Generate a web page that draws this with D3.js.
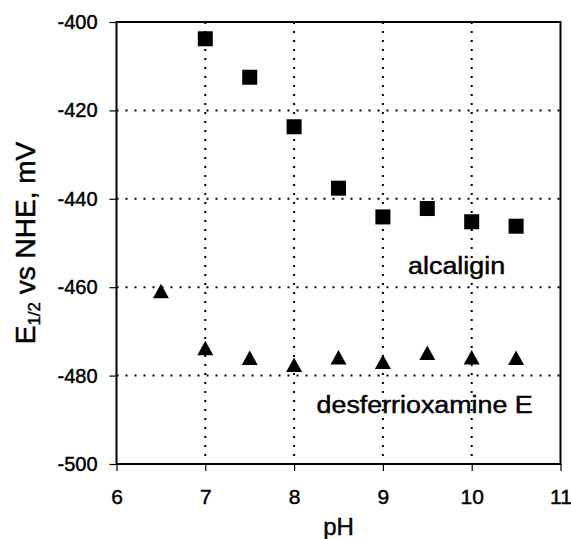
<!DOCTYPE html>
<html>
<head>
<meta charset="utf-8">
<script src="https://cdn.jsdelivr.net/npm/d3@7"></script>
<style>
  body { margin: 0; background: #fff; }
  text { font-family: "Liberation Sans", Arial, sans-serif; fill: #000; stroke: #000; stroke-width: 0.45px; }
</style>
</head>
<body>
<div id="chart"></div>
<script>
const width = 571;
const height = 539;

// data
const phValues = [7, 7.5, 8, 8.5, 9, 9.5, 10, 10.5];
const alcaligin = [-403.8, -412.5, -423.7, -437.6, -444.1, -442.2, -445.2, -446.2];
const desferPh = [6.5, 7, 7.5, 8, 8.5, 9, 9.5, 10, 10.5];
const desferrioxamine = [-460.9, -473.8, -476.0, -477.6, -475.9, -476.9, -474.9, -475.9, -476.0];
const xTicks = [6, 7, 8, 9, 10, 11];
const yTicks = [-400, -420, -440, -460, -480, -500];

const margin = { top: 22, right: 10.5, bottom: 75, left: 116.5 };

const svg = d3.select("#chart")
    .append("svg")
    .attr("width", width)
    .attr("height", height);

const x = d3.scaleLinear().domain([6, 11]).range([margin.left, width - margin.right]);
const y = d3.scaleLinear().domain([-500, -400]).range([height - margin.bottom, margin.top]);

// dotted grid
svg.append("g")
    .selectAll("line")
    .data(xTicks.slice(1, -1))
    .enter().append("line")
    .attr("x1", d => x(d)).attr("x2", d => x(d))
    .attr("y1", y(-400)).attr("y2", y(-500))
    .attr("stroke", "#000")
    .attr("stroke-width", 2)
    .attr("stroke-dasharray", "2 7");

svg.append("g")
    .selectAll("line")
    .data(yTicks.slice(1, -1))
    .enter().append("line")
    .attr("x1", x(6)).attr("x2", x(11))
    .attr("y1", d => y(d)).attr("y2", d => y(d))
    .attr("stroke", "#000")
    .attr("stroke-width", 2)
    .attr("stroke-dasharray", "2 7");

// frame
svg.append("rect")
    .attr("x", x(6))
    .attr("y", y(-400))
    .attr("width", x(11) - x(6))
    .attr("height", y(-500) - y(-400))
    .attr("fill", "none")
    .attr("stroke", "#000")
    .attr("stroke-width", 2);

// axes (plain hyphen for negatives, as in the original)
const yAxis = svg.append("g")
    .attr("transform", `translate(${x(6)},0)`)
    .call(d3.axisLeft(y).tickValues(yTicks).tickSize(7).tickPadding(12).tickFormat(d => String(d)));
yAxis.select(".domain").remove();
yAxis.selectAll("text").attr("font-size", "20px").attr("font-family", "'Liberation Sans', Arial, sans-serif");
yAxis.selectAll("line").attr("stroke-width", 1.2);

const xAxis = svg.append("g")
    .attr("transform", `translate(0,${y(-500)})`)
    .call(d3.axisBottom(x).tickValues(xTicks).tickSize(7).tickPadding(18).tickFormat(d => String(d)));
xAxis.select(".domain").remove();
xAxis.selectAll("text").attr("font-size", "21px").attr("font-family", "'Liberation Sans', Arial, sans-serif");
xAxis.selectAll("line").attr("stroke-width", 1.2);

// axis titles
svg.append("text")
    .attr("x", x(8.5))
    .attr("y", 535)
    .attr("text-anchor", "middle")
    .attr("font-size", "24px")
    .text("pH");

const yTitle = svg.append("text")
    .attr("transform", `translate(35,${(y(-400) + y(-500)) / 2}) rotate(-90)`)
    .attr("text-anchor", "middle")
    .attr("font-size", "28px");
yTitle.append("tspan").text("E");
yTitle.append("tspan").attr("font-size", "17px").attr("dy", "5").text("1/2");
yTitle.append("tspan").attr("dy", "-5").text(" vs NHE, mV");

// alcaligin squares
svg.append("g")
    .selectAll("rect")
    .data(phValues.map((p, i) => [p, alcaligin[i]]))
    .enter().append("rect")
    .attr("x", d => x(d[0]) - 7.5)
    .attr("y", d => y(d[1]) - 7.5)
    .attr("width", 15)
    .attr("height", 15)
    .attr("fill", "#000");

// desferrioxamine triangles
svg.append("g")
    .selectAll("path")
    .data(desferPh.map((p, i) => [p, desferrioxamine[i]]))
    .enter().append("path")
    .attr("d", d => {
        const cx = x(d[0]), cy = y(d[1]);
        return `M${cx},${cy - 7.5}L${cx + 8},${cy + 7}L${cx - 8},${cy + 7}Z`;
    })
    .attr("fill", "#000");

// series labels
svg.append("text")
    .attr("x", x(9.83))
    .attr("y", y(-457))
    .attr("text-anchor", "middle")
    .attr("font-size", "23px")
    .attr("textLength", 97)
    .attr("lengthAdjust", "spacingAndGlyphs")
    .text("alcaligin");

svg.append("text")
    .attr("x", x(9.47))
    .attr("y", y(-488.5))
    .attr("text-anchor", "middle")
    .attr("font-size", "23px")
    .attr("textLength", 216)
    .attr("lengthAdjust", "spacingAndGlyphs")
    .text("desferrioxamine E");
</script>
</body>
</html>
